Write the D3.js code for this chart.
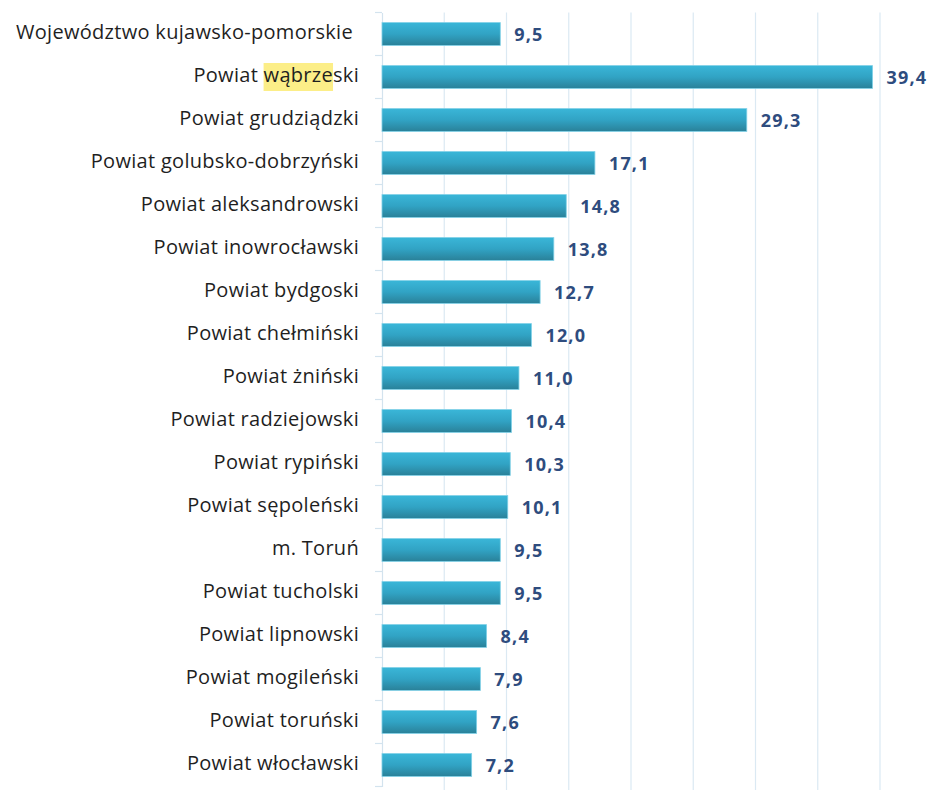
<!DOCTYPE html>
<html><head><meta charset="utf-8">
<script src="https://cdn.jsdelivr.net/npm/d3@7"></script>
<style>body{margin:0;background:#fff;} svg{display:block;}</style>
</head><body>
<script>
const categories = ["Województwo kujawsko-pomorskie","Powiat wąbrzeski","Powiat grudziądzki","Powiat golubsko-dobrzyński","Powiat aleksandrowski","Powiat inowrocławski","Powiat bydgoski","Powiat chełmiński","Powiat żniński","Powiat radziejowski","Powiat rypiński","Powiat sępoleński","m. Toruń","Powiat tucholski","Powiat lipnowski","Powiat mogileński","Powiat toruński","Powiat włocławski"];
const values = [9.5,39.4,29.3,17.1,14.8,13.8,12.7,12.0,11.0,10.4,10.3,10.1,9.5,9.5,8.4,7.9,7.6,7.2];
const gridTicks = [5,10,15,20,25,30,35,40];

const W = 933, H = 790;
const svg = d3.select("body").append("svg").attr("width", W).attr("height", H);
const defs = svg.append("defs");
const grad = defs.append("linearGradient").attr("id","bg").attr("x1",0).attr("y1",0).attr("x2",0).attr("y2",1);
grad.append("stop").attr("offset","0%").attr("stop-color","#3ab6d8");
grad.append("stop").attr("offset","50%").attr("stop-color","#31a3c4");
grad.append("stop").attr("offset","100%").attr("stop-color","#2a8199");

const x = d3.scaleLinear().domain([0,40]).range([382, 880]);
const y = d3.scaleBand().domain(categories).range([12.5, 786.5]).paddingInner(0.47).paddingOuter(0.235);
const yb = d3.scaleBand().domain(categories).range([12.5, 786.5]);

svg.append("g").selectAll("line").data(gridTicks).join("line")
  .attr("x1", d => x(d)).attr("x2", d => x(d))
  .attr("y1", 12.5).attr("y2", H)
  .attr("stroke", "#dbe9f3").attr("stroke-width", 1.2);

const ax = d3.axisLeft(yb).tickSize(0).tickFormat("");
const axisG = svg.append("g").attr("transform", `translate(${x(0)},0)`).call(ax);
axisG.select(".domain").attr("stroke", "#d3e3ee").attr("stroke-width", 1.2);
const bounds = categories.map(c => yb(c)).concat([786.5]);
svg.append("g").selectAll("line").data(bounds).join("line")
  .attr("x1", x(0) - 7).attr("x2", x(0))
  .attr("y1", d => d).attr("y2", d => d)
  .attr("stroke", "#d3e3ee").attr("stroke-width", 1.2);

svg.append("g").selectAll("rect").data(values).join("rect")
  .attr("x", x(0)).attr("y", (d,i) => y(categories[i]))
  .attr("width", d => x(d) - x(0)).attr("height", y.bandwidth())
  .attr("fill", "url(#bg)").attr("stroke", "#7fd0e6").attr("stroke-width", 0.8);

svg.append("g").selectAll("text").data(values).join("text")
  .attr("x", d => x(d) + 14).attr("y", (d,i) => yb(categories[i]) + yb.bandwidth()/2 + 2)
  .attr("dominant-baseline", "middle")
  .attr("font-family", "'Open Sans', sans-serif").attr("font-weight", "bold")
  .attr("font-size", "18px").attr("fill", "#2e4c7e").attr("letter-spacing", "1.2px")
  .text(d => d.toFixed(1).replace(".", ","));

const hlG = svg.append("g");
const labels = svg.append("g").selectAll("text").data(categories).join("text")
  .attr("x", (d,i) => i === 0 ? 353 : 359)
  .attr("y", d => yb(d) + yb.bandwidth()/2)
  .attr("dominant-baseline", "middle")
  .attr("text-anchor", "end")
  .attr("font-family", "'Open Sans', sans-serif")
  .attr("font-size", "20px").attr("fill", "#1f1f1f").attr("letter-spacing", "0.3px")
  .text(d => d);

labels.filter((d,i) => i === 1).each(function(d){
  const start = d.indexOf("wąbrze");
  const p = this.getStartPositionOfChar(start);
  const len = this.getSubStringLength(start, 6);
  const cy = yb(d) + yb.bandwidth()/2;
  hlG.append("rect").attr("x", p.x).attr("y", cy - 14).attr("width", len).attr("height", 28).attr("fill", "#fcee88");
});
</script>
</body></html>
